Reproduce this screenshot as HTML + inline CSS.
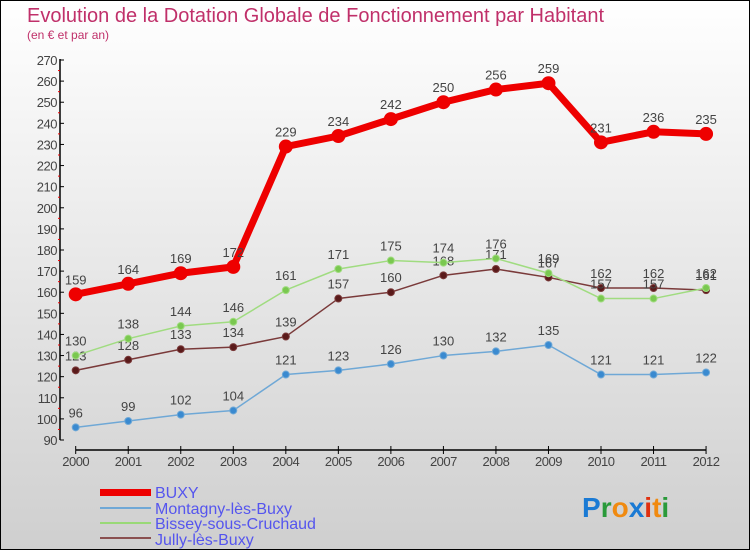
<!DOCTYPE html>
<html><head><meta charset="utf-8"><style>
body{margin:0;}
#c{width:750px;height:550px;position:relative;overflow:hidden;font-family:"Liberation Sans",sans-serif;}
</style></head><body>
<div id="c">
<svg id="s" width="750" height="550" xmlns="http://www.w3.org/2000/svg">
<defs><linearGradient id="bg" x1="0" y1="0" x2="0" y2="1"><stop offset="0" stop-color="#ffffff"/><stop offset="1" stop-color="#cfcfcf"/></linearGradient></defs>
<rect x="0.5" y="0.5" width="749" height="549" fill="url(#bg)" stroke="#000"/>
<text x="27" y="22" font-size="20" fill="#c0306a">Evolution de la Dotation Globale de Fonctionnement par Habitant</text>
<text x="27" y="39" font-size="12" fill="#c0306a">(en € et par an)</text>
<g id="axes"></g><g id="series"></g>
<g>
<rect x="100" y="489" width="51" height="7" fill="#ee0000"/>
<text x="155" y="498" font-size="16" fill="#5555ee">BUXY</text>
<rect x="100" y="507" width="51" height="2" fill="#6fa8d6"/>
<text x="155" y="514" font-size="16" fill="#5555ee">Montagny-lès-Buxy</text>
<rect x="100" y="522" width="51" height="2" fill="#99d977"/>
<text x="155" y="529" font-size="16" fill="#5555ee">Bissey-sous-Cruchaud</text>
<rect x="100" y="537" width="51" height="2" fill="#8a5050"/>
<text x="155" y="545" font-size="16" fill="#5555ee">Jully-lès-Buxy</text>
</g>
<text x="582" y="517" font-size="28" font-weight="bold"><tspan fill="#1a7ad4">P</tspan><tspan fill="#2a9a3a">r</tspan><tspan fill="#f08a10">o</tspan><tspan fill="#1a7ad4">x</tspan><tspan fill="#e03010">i</tspan><tspan fill="#f08a10">t</tspan><tspan fill="#2a9a3a">i</tspan></text>
</svg>
</div>
<script>
const years=["2000","2001","2002","2003","2004","2005","2006","2007","2008","2009","2010","2011","2012"];
const buxy=[159,164,169,172,229,234,242,250,256,259,231,236,235];
const montagny=[96,99,102,104,121,123,126,130,132,135,121,121,122];
const bissey=[130,138,144,146,161,171,175,174,176,169,157,157,162];
const jully=[123,128,133,134,139,157,160,168,171,167,162,162,161];
const yTicks=[90,100,110,120,130,140,150,160,170,180,190,200,210,220,230,240,250,260,270];
const NS="http://www.w3.org/2000/svg";
function x(i){return 75.7+i*52.53;}
function y(v){return 440-(v-90)*380/180;}
function mk(t,a,p){const e=document.createElementNS(NS,t);for(const k in a)e.setAttribute(k,a[k]);p.appendChild(e);return e;}
const ax=document.getElementById('axes');
let l=mk('line',{x1:60,y1:59,x2:60,y2:440,stroke:'#000','stroke-width':1.5},ax);


yTicks.forEach(v=>{
 mk('line',{x1:60,y1:y(v),x2:64,y2:y(v),stroke:'#000'},ax);
 if(v<270)mk('line',{x1:58,y1:y(v+5),x2:60,y2:y(v+5),stroke:'#e00'},ax);
 const t=mk('text',{x:57,y:y(v)+5,'font-size':13,fill:'#444','text-anchor':'end','letter-spacing':'-0.5'},ax);
 t.textContent=v;
 
 
});
l=mk('line',{x1:x(0),y1:450,x2:x(12),y2:450,stroke:'#000','stroke-width':1.5},ax);


years.forEach((yr,i)=>{
 mk('line',{x1:x(i),y1:446,x2:x(i),y2:454,stroke:'#000'},ax);
 const t=mk('text',{x:x(i),y:466,'font-size':13,fill:'#444','text-anchor':'middle','letter-spacing':'-0.5'},ax);
 t.textContent=yr;
 
 
});
const sg=document.getElementById('series');
function draw(name,data,col,dot,w,r){
 const g=mk('g',{},sg);
 
 
 const pl=mk('polyline',{points:data.map((v,i)=>x(i)+','+y(v)).join(' '),fill:'none',stroke:col,'stroke-width':w,'stroke-linejoin':'round'},g);
 
 
 data.forEach((v,i)=>{
  const c=mk('circle',{cx:x(i),cy:y(v),r:r,fill:dot,stroke:col,'stroke-width':1},g);
  
  
  const t=mk('text',{x:x(i),y:y(v)-10,'font-size':13,fill:'#444','text-anchor':'middle'},g);
  t.textContent=v;
  
  
 });
}
draw('jully',jully,'#7a3a3a','#5a1a1a',1.5,3.5);
draw('bissey',bissey,'#a0dc80','#7ac850',1.5,3.5);
draw('montagny',montagny,'#6fa8d6','#3a8ad0',1.5,3.5);
draw('buxy',buxy,'#ee0000','#ee0000',7,6.5);
</script>
</body></html>
